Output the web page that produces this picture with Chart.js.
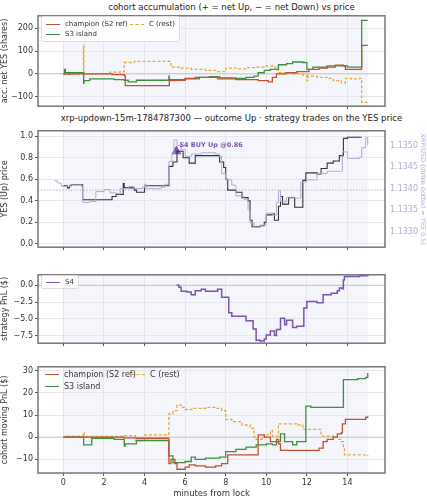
<!DOCTYPE html>
<html>
<head>
<meta charset="utf-8">
<script src="https://cdn.jsdelivr.net/npm/chart.js@4.4.0/dist/chart.umd.min.js"></script>
<style>
  body { margin: 0; background: #fff; font-family: "DejaVu Sans", sans-serif; }
  #wrap { position: relative; width: 427px; height: 500px; }
  canvas { position: absolute; left: 0; }
  .ttl { position: absolute; left: 0; width: 427px; text-align: center; font-size: 8.5px; color: #222; white-space: nowrap; }
  .leg { position: absolute; font-size: 7px; color: #333; background: rgba(255,255,255,0.85); border: 1px solid #ddd; border-radius: 2px; padding: 2px 4px; white-space: nowrap; }
  .leg span { display: inline-block; white-space: nowrap; }
  .leg i { display: inline-block; width: 14px; margin-right: 5px; border-top: 1.6px solid; vertical-align: middle; }
</style>
</head>
<body>
<div id="wrap">
  <div class="ttl" style="top:2px;left:18px">cohort accumulation (+ = net Up, − = net Down) vs price</div>
  <div class="ttl" style="top:113px;left:18px">xrp-updown-15m-1784787300 — outcome Up · strategy trades on the YES price</div>
  <canvas id="c1" width="427" height="104" style="top:9px"></canvas>
  <canvas id="c2" width="427" height="130" style="top:124px"></canvas>
  <canvas id="c3" width="427" height="82" style="top:268px"></canvas>
  <canvas id="c4" width="427" height="140" style="top:360px"></canvas>
  <div class="leg" style="left:41px;top:16px;line-height:10px">
    <span style="width:84px"><i style="border-color:#c1502e"></i>champion (S2 ref)</span><span><i style="border-color:#e3a92b;border-top-style:dashed"></i>C (rest)</span><br>
    <span><i style="border-color:#3d8f3d"></i>S3 island</span>
  </div>
  <div class="leg" style="left:41px;top:275px"><span><i style="border-color:#7b52ae"></i>S4</span></div>
  <div class="leg" style="left:41px;top:367px;font-size:8px;line-height:12px;border:none;background:transparent">
    <span style="width:86px"><i style="border-color:#c1502e"></i>champion (S2 ref)</span><span><i style="border-color:#e3a92b;border-top-style:dashed"></i>C (rest)</span><br>
    <span><i style="border-color:#3d8f3d"></i>S3 island</span>
  </div>
</div>
<script>
// ---- data: [minutes from lock, value] ----
const accChampion = [[0,0],[2.4,-3],[3.0,-8],[3.05,-52],[5.22,-30],[5.5,-28],[6.0,-20],[6.5,-15],[7.6,-22],[8.5,-25],[9.6,-30],[10.1,-35],[10.3,-15],[10.5,0],[11.0,5],[11.5,10],[12.1,20],[12.6,25],[13.0,30],[13.4,38],[13.8,35],[13.9,20],[14.7,125],[15.0,125]];
const accS3 = [[0,0],[0.05,20],[0.1,5],[1.0,-42],[1.02,-30],[1.3,-22],[2.5,-25],[3.0,-28],[3.2,-35],[3.6,-28],[5.2,-10],[5.22,-25],[6.0,-22],[6.7,-15],[7.2,-12],[7.7,-18],[8.5,-20],[9.0,-15],[9.4,-10],[9.6,5],[9.9,15],[10.2,20],[10.6,40],[11.0,45],[11.3,52],[11.8,50],[12.0,20],[12.3,30],[13.0,35],[14.0,30],[14.7,235],[15.0,235]];
const accRest = [[0,0],[0.2,-3],[0.5,0],[0.99,125],[1.01,0],[2.3,8],[2.8,10],[3.0,50],[3.5,55],[5.2,55],[5.3,30],[5.8,25],[6.3,20],[7.0,15],[7.6,10],[8.0,25],[8.6,22],[9.0,27],[9.5,30],[10.0,35],[10.3,30],[10.6,5],[11.2,0],[11.8,-5],[12.0,-30],[12.05,-10],[12.5,-15],[13.0,-20],[13.3,-30],[13.7,-40],[13.9,-20],[14.2,-22],[14.6,-20],[14.7,-125],[15.0,-125]];

const yesPrice = [[0,0.54],[0.2,0.52],[0.3,0.54],[0.4,0.55],[0.95,0.41],[2.4,0.44],[2.6,0.46],[2.95,0.56],[3.0,0.52],[3.5,0.5],[3.6,0.48],[4.0,0.54],[5.2,0.72],[5.4,0.76],[5.6,0.86],[5.9,0.8],[6.2,0.75],[6.5,0.82],[7.7,0.76],[7.9,0.71],[8.0,0.6],[8.1,0.5],[8.5,0.48],[8.8,0.43],[9.1,0.4],[9.2,0.22],[9.3,0.16],[9.7,0.17],[9.9,0.2],[10.0,0.27],[10.3,0.28],[10.4,0.22],[10.6,0.35],[10.7,0.44],[10.8,0.37],[11.1,0.43],[11.4,0.34],[11.8,0.59],[11.95,0.66],[12.5,0.65],[12.7,0.7],[13.0,0.75],[13.3,0.77],[13.6,0.82],[13.8,0.98],[14.0,0.99],[14.7,0.99]];
const xrpUsd = [[-0.45,1.13418],[-0.3,1.13413],[-0.1,1.13405],[0.3,1.13408],[0.9,1.13405],[0.95,1.13368],[1.3,1.1337],[1.6,1.13393],[2.0,1.13398],[2.3,1.1339],[2.6,1.13388],[2.8,1.134],[3.2,1.13405],[3.5,1.134],[3.9,1.13403],[4.0,1.1341],[4.1,1.134],[4.8,1.13403],[5.0,1.1341],[5.2,1.13463],[5.35,1.1348],[5.45,1.13513],[5.6,1.135],[5.8,1.1349],[6.0,1.13475],[6.3,1.1348],[6.8,1.13483],[7.5,1.1348],[7.7,1.13475],[7.8,1.13435],[8.0,1.1342],[8.3,1.13408],[8.5,1.13383],[8.9,1.13375],[9.1,1.1335],[9.2,1.1332],[9.4,1.1331],[9.7,1.13315],[10.0,1.13343],[10.3,1.13338],[10.5,1.13368],[10.6,1.13395],[10.7,1.1337],[11.0,1.1338],[11.4,1.13378],[11.7,1.13415],[12.0,1.1342],[12.5,1.13435],[13.0,1.1344],[13.6,1.1344],[13.75,1.13485],[14.0,1.1347],[14.6,1.13473],[14.7,1.13495],[14.9,1.13518],[15.0,1.135]];
const buyMarker = [[5.57,0.86]];
const buyLabel = 'S4 BUY Up @0.86';

const pnlS4 = [[5.57,0],[5.7,-0.3],[5.8,-0.9],[6.1,-1.0],[6.3,-1.4],[6.5,-0.8],[6.8,-0.6],[7.0,-0.9],[7.6,-0.6],[7.8,-1.8],[8.15,-4.1],[8.3,-4.6],[9.0,-5.3],[9.35,-6.5],[9.5,-8.2],[9.7,-8.3],[9.9,-8.0],[10.0,-7.4],[10.2,-6.8],[10.4,-7.5],[10.5,-6.6],[10.7,-4.9],[10.9,-5.9],[11.0,-5.2],[11.3,-6.3],[11.5,-6.1],[11.85,-3.4],[12.0,-2.4],[12.5,-2.6],[12.8,-1.4],[13.2,-1.2],[13.5,-0.8],[13.6,-0.4],[13.75,-0.5],[13.8,0.8],[13.85,1.3],[14.6,1.4],[15.0,1.5]];

const movChampion = [[0,0],[3.0,-0.3],[3.6,-0.5],[5.2,-12],[5.3,-10],[5.5,-12],[5.6,-14.5],[6.0,-13.5],[6.2,-12.5],[6.5,-13],[7.0,-13.5],[7.5,-13],[7.8,-12],[8.1,-8],[9.6,1],[9.9,0],[10.2,-2],[10.5,-1],[10.6,-3],[10.7,-6],[12.6,-5],[12.8,-2],[13.0,-1],[13.3,0],[13.5,1.5],[13.7,2],[13.75,6],[13.9,8],[14.9,9],[15.0,9.5]];
const movS3 = [[0,0],[1.0,-3.5],[1.4,-0.5],[2.5,-1],[3.0,-4],[3.05,-3],[3.6,-1.5],[5.2,-8.5],[5.4,-11.5],[6.0,-11],[6.3,-9],[6.5,-10],[7.0,-9.5],[7.7,-9],[8.0,-6.5],[8.5,-5.5],[9.0,-4.5],[9.5,-3.5],[10.0,-3],[10.3,-3.5],[10.5,-2],[10.7,1.5],[10.9,-2],[11.3,-3.5],[11.5,-2],[11.95,14],[12.2,13.5],[13.8,26],[14.5,26.5],[14.9,27],[15.0,29]];
const movRest = [[0,0],[0.2,0.5],[0.98,2],[1.02,0.3],[3.0,0.7],[3.55,-1.5],[4.0,1],[5.2,10.5],[5.4,12],[5.6,14.5],[5.8,13.5],[6.0,12.5],[6.4,13],[7.0,13.5],[7.5,13],[7.8,12],[8.0,8],[8.3,7],[8.8,5.5],[9.2,4],[9.4,0],[9.5,-1],[9.8,0],[10.0,1],[10.2,3],[10.3,0.5],[10.6,6],[11.5,5.5],[11.8,3.5],[12.7,0.5],[13.5,-1],[13.7,-2],[13.8,-5],[13.85,-8],[14.5,-8],[15.0,-8.5]];

const xTicks = [0, 2, 4, 6, 8, 10, 12, 14];

const RED = '#c1502e', GREEN = '#3d8f3d', GOLD = '#e3a92b', PURPLE = '#7b52ae', LILAC = '#b7a8d8';
const font = { family: 'DejaVu Sans', size: 8 };

function xy(arr) { return arr.map(p => ({ x: p[0], y: p[1] })); }
// hold each value until the next point
function stepLine(data, color, extra) {
  return Object.assign({ data: xy(data), borderColor: color, borderWidth: 1.3, pointRadius: 0, stepped: 'before', fill: false }, extra || {});
}

// shaded 0..15 band, frame, reference line, annotation
const deco = {
  id: 'deco',
  beforeDatasetsDraw(chart, args, o) {
    const { ctx, chartArea: a, scales } = chart;
    const x0 = scales.x.getPixelForValue(0), x1 = scales.x.getPixelForValue(15);
    ctx.save();
    ctx.fillStyle = 'rgba(225,230,245,0.35)';
    ctx.fillRect(x0, a.top, x1 - x0, a.bottom - a.top);
    if (o.hline !== undefined) {
      const y = scales.y.getPixelForValue(o.hline);
      ctx.strokeStyle = o.dotted ? '#aaa' : '#bbb';
      ctx.lineWidth = 0.8;
      if (o.dotted) ctx.setLineDash([1.5, 1.5]);
      ctx.beginPath(); ctx.moveTo(a.left, y); ctx.lineTo(a.right, y); ctx.stroke();
    }
    ctx.restore();
  },
  afterDatasetsDraw(chart, args, o) {
    const { ctx, chartArea: a, scales } = chart;
    ctx.save();
    if (o.label) {
      const p = o.label.at;
      ctx.fillStyle = PURPLE;
      ctx.font = 'bold 6.5px DejaVu Sans';
      ctx.textBaseline = 'middle';
      ctx.fillText(o.label.text, scales.x.getPixelForValue(p[0]) + 3, scales.y.getPixelForValue(p[1]) - 6);
    }
    ctx.strokeStyle = '#777';
    ctx.lineWidth = 1.5;
    ctx.strokeRect(a.left, a.top, a.right - a.left, a.bottom - a.top);
    ctx.restore();
  }
};

function fixedTicks(list) { return scale => { scale.ticks = list.map(v => ({ value: v })); }; }

function makeChart(id, datasets, plotH, y, opts) {
  opts = opts || {};
  const canvas = document.getElementById(id);
  const xH = canvas.height - 5 - plotH;
  const scales = {
    x: {
      type: 'linear', min: -1.25, max: 15.85,
      afterBuildTicks: fixedTicks(xTicks),
      afterFit: s => { s.height = xH; },
      grid: { color: '#e6e6e6', tickLength: 3, tickColor: '#555' },
      border: { display: false },
      ticks: { display: !!opts.xLabels, font, color: '#333', padding: 2 },
      title: { display: !!opts.xLabels, text: 'minutes from lock', font: { family: 'DejaVu Sans', size: 8.5 }, color: '#333', padding: 1 }
    },
    y: {
      min: y.min, max: y.max,
      afterBuildTicks: fixedTicks(y.ticks),
      afterFit: s => { s.width = 38; },
      grid: { color: '#e6e6e6', tickLength: 3, tickColor: '#555' },
      border: { display: false },
      ticks: { font, color: '#333', padding: 2, callback: y.fmt || (v => String(v).replace('-', '−')) },
      title: { display: true, text: y.title, font: { family: 'DejaVu Sans', size: 8 }, color: '#333', padding: 0 }
    }
  };
  if (opts.y2) scales.y2 = opts.y2;
  return new Chart(canvas, {
    type: 'line',
    data: { datasets },
    options: {
      responsive: false, animation: false, devicePixelRatio: 1,
      layout: { padding: { top: 5, right: opts.y2 ? 0 : 42, left: 0, bottom: 0 } },
      scales,
      plugins: { legend: { display: false }, tooltip: { enabled: false }, deco: opts.deco || {} }
    },
    plugins: [deco]
  });
}

makeChart('c1', [
  stepLine(accChampion, RED),
  stepLine(accS3, GREEN),
  stepLine(accRest, GOLD, { borderDash: [3, 2] })
], 94, { min: -142, max: 255, ticks: [-100, 0, 100, 200], title: 'acc. net YES (shares)' }, { deco: { hline: 0 } });

makeChart('c2', [
  { data: xy(xrpUsd), yAxisID: 'y2', borderColor: LILAC, borderWidth: 1, pointRadius: 0, stepped: 'before' },
  stepLine(yesPrice, '#333', { borderWidth: 1.1 }),
  { type: 'scatter', data: xy(buyMarker), pointStyle: 'triangle', pointRadius: 5, backgroundColor: PURPLE, borderColor: PURPLE }
], 120, { min: -0.03, max: 1.05, ticks: [0, 0.2, 0.4, 0.6, 0.8, 1.0], title: 'YES (Up) price', fmt: v => v.toFixed(1) }, {
  deco: { hline: 0.5, dotted: true, label: { text: buyLabel, at: buyMarker[0] } },
  y2: {
    position: 'right', min: 1.13264, max: 1.13534,
    afterBuildTicks: fixedTicks([1.1330, 1.1335, 1.1340, 1.1345, 1.1350]),
    afterFit: s => { s.width = 42; },
    grid: { display: false, tickLength: 3, tickColor: LILAC },
    border: { display: false },
    ticks: { font, color: LILAC, padding: 2, callback: v => v.toFixed(4) },
    title: { display: true, text: 'XRP/USD (strike dotted = YES 0.5)', font: { family: 'DejaVu Sans', size: 6.5 }, color: LILAC, padding: 0 }
  }
});

makeChart('c3', [
  stepLine(pnlS4, PURPLE, { borderWidth: 1.5 })
], 72, { min: -8.63, max: 1.56, ticks: [-7.5, -5, -2.5, 0], title: 'strategy PnL ($)', fmt: v => v.toFixed(1).replace('-', '−') }, { deco: { hline: 0 } });

makeChart('c4', [
  stepLine(movChampion, RED),
  stepLine(movS3, GREEN),
  stepLine(movRest, GOLD, { borderDash: [3, 2] })
], 108, { min: -16.2, max: 31.8, ticks: [-10, 0, 10, 20, 30], title: 'cohort moving PnL ($)' }, { deco: { hline: 0 }, xLabels: true });
</script>
</body>
</html>
